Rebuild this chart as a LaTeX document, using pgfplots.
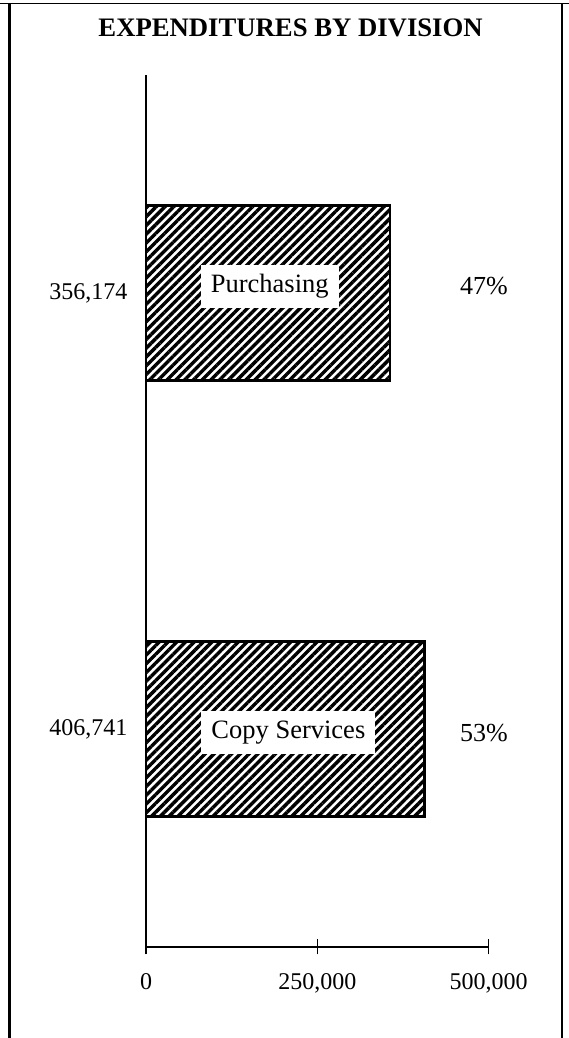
\documentclass[border=0pt]{standalone}
\usepackage{fontspec}
\setmainfont{Liberation Serif}
\usepackage{pgfplots}
\pgfplotsset{compat=1.18}
\usetikzlibrary{patterns.meta}

\begin{document}
\begin{tikzpicture}[x=1pt,y=1pt]
\useasboundingbox (0,0) rectangle (569,1038);
% page frame
\draw[line width=1.5pt] (0,1034.4) -- (569,1034.4);
\draw[line width=2.7pt] (9.7,1035) -- (9.7,0);
\draw[line width=1.3pt] (562,1035) -- (562,0);
\node[font=\fontsize{26.7}{30}\selectfont\bfseries] at (290.6,1010) {EXPENDITURES BY DIVISION};
\begin{axis}[
  at={(146pt,91pt)}, anchor=south west,
  scale only axis, width=342.7pt, height=872pt,
  xmin=0, xmax=500000, ymin=-0.5, ymax=1.5,
  axis x line=bottom, axis y line=left,
  axis line style={-, line width=1.2pt},
  xtick={0,250000,500000}, xticklabels={0,{250,000},{500,000}},
  scaled x ticks=false,
  ytick=\empty,
  tick align=center, major tick length=15pt,
  tick style={line width=1.2pt, black},
  xticklabel style={font=\fontsize{24}{28}\selectfont, yshift=-16pt},
  xbar, bar width=174.5pt,
  clip=false,
]
\addplot[draw=black, line width=2.6pt,
  pattern={Lines[angle=45,distance=6.2pt,line width=3.4pt]}, pattern color=black]
  coordinates {(406741,0) (356174,1)};
% amounts
\node[font=\fontsize{24}{28}\selectfont, xshift=-57.5pt] at (axis cs:0,1) {356,174};
\node[font=\fontsize{24}{28}\selectfont, xshift=-57.5pt] at (axis cs:0,0) {406,741};
% shares
\node[font=\fontsize{26}{30}\selectfont, xshift=-4.7pt, yshift=7pt] at (axis cs:500000,1) {47\%};
\node[font=\fontsize{26}{30}\selectfont, xshift=-4.7pt, yshift=-4pt] at (axis cs:500000,0) {53\%};
% division names
\node[fill=white, inner xsep=10pt, inner ysep=9.5pt, text height=18pt, text depth=6pt,
  font=\fontsize{26.5}{30}\selectfont, xshift=1.7pt, yshift=6pt] at (axis cs:178087,1) {Purchasing};
\node[fill=white, inner xsep=10pt, inner ysep=9.5pt, text height=18pt, text depth=6pt,
  font=\fontsize{26.5}{30}\selectfont, xshift=3pt, yshift=-3.7pt] at (axis cs:203370.5,0) {Copy Services};
\end{axis}
\end{tikzpicture}
\end{document}
